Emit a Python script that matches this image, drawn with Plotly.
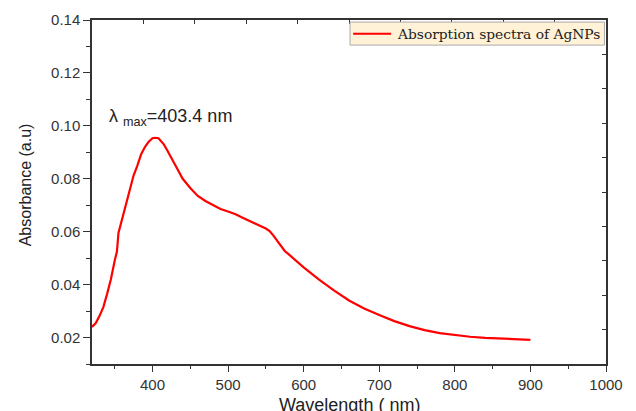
import plotly.graph_objects as go

wavelength = [320, 325, 330, 335, 340, 345, 350, 353, 355, 360, 365, 370, 375, 380, 385,
              390, 395, 400, 403.4, 408, 415, 420, 430, 440, 450, 460, 470, 480, 490, 500,
              510, 520, 530, 540, 550, 555, 560, 565, 570, 575, 580, 590, 600, 620, 640,
              660, 680, 700, 720, 740, 760, 780, 800, 820, 840, 860, 880, 900]
absorbance = [0.0240, 0.0255, 0.0282, 0.0315, 0.0365, 0.0420, 0.0490, 0.0525, 0.0595, 0.0650,
              0.0710, 0.0765, 0.0812, 0.0850, 0.0893, 0.0920, 0.0940, 0.0953, 0.0955, 0.0953,
              0.0930, 0.0905, 0.0855, 0.0800, 0.0765, 0.0735, 0.0716, 0.0700, 0.0686, 0.0676,
              0.0666, 0.0652, 0.0637, 0.0625, 0.0612, 0.0602, 0.0585, 0.0565, 0.0545, 0.0527,
              0.0515, 0.0490, 0.0465, 0.0420, 0.0378, 0.0340, 0.0310, 0.0285, 0.0262, 0.0243,
              0.0228, 0.0217, 0.0209, 0.0203, 0.0199, 0.0196, 0.0194, 0.0191]

series_name = "Absorption spectra of AgNPs"
peak_label = "λ <sub>max</sub>=403.4 nm"
peak_x, peak_y = 340, 0.103
x_title = "Wavelength ( nm)"
y_title = "Absorbance (a.u)"

axis_col = "#333333"
line_col = "#ff0000"
tick_font = dict(family="Liberation Sans, Arial", size=15, color="#333333")

fig = go.Figure()
fig.add_trace(go.Scatter(x=wavelength, y=absorbance, mode="lines", name=series_name,
                         showlegend=False, line=dict(color=line_col, width=2.2)))
# empty trace so that the mirrored top/right frame axes are drawn
fig.add_trace(go.Scatter(x=[], y=[], xaxis="x2", yaxis="y2", showlegend=False,
                         hoverinfo="skip"))

fig.update_layout(
    width=636, height=411,
    margin=dict(l=92, r=30, t=20, b=47),
    paper_bgcolor="white", plot_bgcolor="white",
    showlegend=False,
    xaxis=dict(range=[320, 1000], tick0=0, dtick=100, ticks="outside", ticklen=6,
               tickwidth=1, tickcolor=axis_col, showline=True, linecolor=axis_col, linewidth=1.5,
               showgrid=False, zeroline=False, tickfont=tick_font, automargin=False,
               minor=dict(dtick=50, tick0=0, ticks="outside", ticklen=3, tickcolor=axis_col)),
    yaxis=dict(range=[0.01, 0.14], tick0=0, dtick=0.02, tickformat=".2f", ticks="outside",
               ticklen=7, tickwidth=1, tickcolor=axis_col, showline=True, linecolor=axis_col,
               linewidth=1.5, showgrid=False, zeroline=False, tickfont=tick_font, automargin=False,
               minor=dict(dtick=0.01, tick0=0, ticks="outside", ticklen=4, tickcolor=axis_col)),
    xaxis2=dict(overlaying="x", side="top", anchor="y", range=[0, 10], dtick=1, tick0=0,
                ticks="inside", ticklen=4, tickcolor=axis_col, showticklabels=False,
                automargin=False,
                showline=True, linecolor=axis_col, linewidth=1.5, showgrid=False, zeroline=False),
    yaxis2=dict(overlaying="y", side="right", anchor="x", range=[0, 10], dtick=1, tick0=0,
                ticks="inside", ticklen=4, tickcolor=axis_col, showticklabels=False,
                automargin=False,
                showline=True, linecolor=axis_col, linewidth=1.5, showgrid=False, zeroline=False),
    shapes=[
        dict(type="rect", xref="paper", yref="paper", x0=0.502, x1=0.997, y0=0.927, y1=0.994,
             fillcolor="#FFF2D6", line=dict(color="#AAAAAA", width=1), layer="above"),
        dict(type="line", xref="paper", yref="paper", x0=0.508, x1=0.582, y0=0.96, y1=0.96,
             line=dict(color=line_col, width=2), layer="above"),
    ],
    annotations=[
        dict(x=peak_x, y=peak_y, xref="x", yref="y", text=peak_label, showarrow=False,
             xanchor="left", yanchor="middle",
             font=dict(family="Liberation Sans, Arial", size=18, color="#222222")),
        dict(x=0.589, y=0.96, xref="paper", yref="paper", text=series_name, showarrow=False,
             xanchor="left", yanchor="middle",
             font=dict(family="DejaVu Serif", size=13.8, color="#222222")),
        dict(x=0.5, y=-0.118, xref="paper", yref="paper", text=x_title, showarrow=False,
             xanchor="center", yanchor="middle",
             font=dict(family="Liberation Sans, Arial", size=18, color="#222222")),
        dict(x=-0.13, y=0.52, xref="paper", yref="paper", text=y_title, showarrow=False,
             textangle=-90, xanchor="center", yanchor="middle",
             font=dict(family="Liberation Sans, Arial", size=16, color="#222222")),
    ],
)

fig.write_html("out.html", config={"displayModeBar": False},
               post_script="document.body.style.margin='0';")
